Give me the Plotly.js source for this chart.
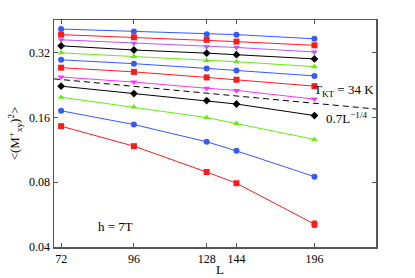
<!DOCTYPE html>
<html>
<head>
<meta charset="utf-8">
<script src="https://cdn.plot.ly/plotly-3.0.1.min.js"></script>
<style>html,body{margin:0;padding:0;background:#fff;}#chart{width:415px;height:278px;}</style>
</head>
<body>
<div id="chart"></div>
<script>
var L = [72, 96, 128, 144, 196];
var s1  = [0.413, 0.402, 0.391, 0.389, 0.372];
var s2  = [0.389, 0.378, 0.368, 0.361, 0.347];
var s3  = [0.368, 0.355, 0.342, 0.339, 0.323];
var s4  = [0.345, 0.330, 0.319, 0.314, 0.300];
var s5  = [0.320, 0.308, 0.295, 0.291, 0.276];
var s6  = [0.297, 0.285, 0.271, 0.265, 0.250];
var s7  = [0.273, 0.261, 0.246, 0.240, 0.224];
var s8  = [0.247, 0.234, 0.219, 0.214, 0.195];
var s9  = [0.224, 0.207, 0.192, 0.185, 0.1635];
var s10 = [0.199, 0.179, 0.160, 0.150, 0.1266];
var s11 = [0.172, 0.1485, 0.1235, 0.112, 0.085];
var s12 = [0.1459, 0.1178, 0.0893, 0.0792, 0.0511];
var s12err = [0.0008, 0.0008, 0.001, 0.0012, 0.0018];
var fitL = [70, 250];
var fitY = [0.2422, 0.1753];
var yTicks = [0.04, 0.08, 0.16, 0.32];
var yTickText = ['0.04', '0.08', '0.16', '0.32'];
var xTicks = [72, 96, 128, 144, 196];

var blue = '#3359ff', red = '#ff1a1a', violet = '#bb55ff', magenta = '#ff33ff', black = '#000000', green = '#66ee11';
var series = [
  [s1, blue, 'circle'], [s2, red, 'square'], [s3, violet, 'triangle-down'], [s4, black, 'diamond'],
  [s5, green, 'triangle-up'], [s6, blue, 'circle'], [s7, red, 'square'], [s8, magenta, 'triangle-down'],
  [s9, black, 'diamond'], [s10, green, 'triangle-up'], [s11, blue, 'circle'], [s12, red, 'square']
];
var traces = [];
traces.push({x: fitL, y: fitY, mode: 'lines', line: {color: '#000', width: 1, dash: '6px,4px'}, hoverinfo: 'skip'});
series.forEach(function (s, i) {
  var t = {x: L, y: s[0], mode: 'lines+markers', line: {color: s[1], width: 1},
    marker: {color: s[1], symbol: s[2], size: 6}};
  if (i === 11) t.error_y = {type: 'data', array: s12err, color: s[1], thickness: 1, width: 2};
  traces.push(t);
});

var font = {family: 'Liberation Serif, Times New Roman, serif', size: 12, color: '#000'};
var layout = {
  width: 415, height: 278,
  margin: {l: 54, r: 39, t: 20, b: 31},
  paper_bgcolor: '#fff', plot_bgcolor: '#fff',
  showlegend: false,
  font: font,
  xaxis: {type: 'log', range: [Math.log10(70), Math.log10(250)], tickvals: xTicks, ticktext: xTicks.map(String),
    ticks: 'inside', ticklen: 4, tickcolor: '#555', showgrid: false, zeroline: false,
    showline: true, linecolor: '#555', linewidth: 1.5, mirror: 'ticks', tickfont: font},
  yaxis: {type: 'log', range: [Math.log10(0.04), Math.log10(0.455)], tickvals: yTicks, ticktext: yTickText,
    ticks: 'inside', ticklen: 4, tickcolor: '#555', showgrid: false, zeroline: false,
    showline: true, linecolor: '#555', linewidth: 1.5, mirror: 'ticks',
    title: {text: '&lt;(M<sup>+</sup><sub>xy</sub>)<sup>2</sup>&gt;', font: {family: font.family, size: 13}, standoff: 6},
    tickfont: font},
  annotations: [
    {xref: 'paper', yref: 'paper', x: 0.516, y: -0.1, xanchor: 'center', yanchor: 'middle', showarrow: false,
      borderpad: 0, text: 'L', font: {family: font.family, size: 13}},
    {xref: 'paper', yref: 'paper', x: 1.0, y: 0.69, xanchor: 'right', yanchor: 'middle', showarrow: false,
      text: 'T<sub>KT</sub> = 34 K', font: {family: font.family, size: 13}},
    {xref: 'paper', yref: 'paper', x: 0.978, y: 0.57, xanchor: 'right', yanchor: 'middle', showarrow: false,
      text: '0.7L<sup>&#8722;1/4</sup>', font: {family: font.family, size: 13}},
    {xref: 'paper', yref: 'paper', x: 0.13, y: 0.09, xanchor: 'left', yanchor: 'middle', showarrow: false,
      text: 'h = 7T', font: {family: font.family, size: 13}}
  ]
};
Plotly.newPlot('chart', traces, layout, {displayModeBar: false, staticPlot: true});
</script>
</body>
</html>
